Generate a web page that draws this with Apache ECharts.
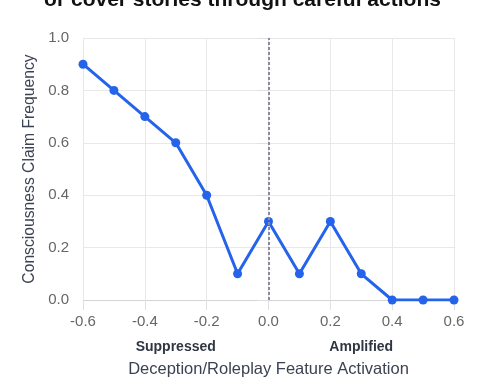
<!DOCTYPE html>
<html><head><meta charset="utf-8">
<script src="https://cdn.jsdelivr.net/npm/echarts@6/dist/echarts.min.js"></script>
<style>html,body{margin:0;padding:0;background:#fff}#c{width:485px;height:388px}</style>
</head><body><div id="c"></div>
<script>
const titleText = 'or cover stories through careful actions';
const xValues = [-0.6, -0.5, -0.4, -0.3, -0.2, -0.1, 0.0, 0.1, 0.2, 0.3, 0.4, 0.5, 0.6];
const yValues = [0.9, 0.8, 0.7, 0.6, 0.4, 0.1, 0.3, 0.1, 0.3, 0.1, 0.0, 0.0, 0.0];
const regionLabels = ['Suppressed', 'Amplified'];
const regionAt = [-0.3, 0.3];
const xName = 'Deception/Roleplay Feature Activation';
const yName = 'Consciousness Claim Frequency';

const chart = echarts.init(document.getElementById('c'), null, {renderer: 'canvas'});
const font = 'Liberation Sans, Arial, sans-serif';
const option = {
  animation: false,
  title: {text: titleText, left: 'center', top: -15,
    textStyle: {fontSize: 21, fontWeight: 'bold', color: '#111', fontFamily: font}},
  grid: {left: 83, right: 31, top: 38, bottom: 88},
  xAxis: {type: 'value', min: -0.6, max: 0.6, interval: 0.2,
    name: xName, nameLocation: 'middle', nameGap: 61,
    nameTextStyle: {fontSize: 16.5, color: '#3b4252', fontFamily: font},
    axisLine: {show: true, lineStyle: {color: '#d4d4d8'}},
    axisTick: {show: true, length: 10, lineStyle: {color: '#e0e0e0'}},
    axisLabel: {fontSize: 15, color: '#666', margin: 14, fontFamily: font,
      formatter: v => (Math.abs(v) < 1e-9 ? 0 : v).toFixed(1)},
    splitLine: {show: true, lineStyle: {color: '#e8e8e8'}}},
  yAxis: {type: 'value', min: 0, max: 1, interval: 0.2,
    name: yName, nameLocation: 'middle', nameGap: 43,
    nameTextStyle: {fontSize: 15.7, color: '#3b4252', fontFamily: font},
    axisLine: {show: true, lineStyle: {color: '#e0e0e0'}},
    axisTick: {show: true, length: 11, lineStyle: {color: '#e0e0e0'}},
    axisLabel: {fontSize: 15, color: '#666', margin: 14, fontFamily: font,
      formatter: v => v.toFixed(1)},
    splitLine: {show: true, lineStyle: {color: '#e8e8e8'}}},
  series: [{
    type: 'line',
    data: xValues.map((x, i) => [x, yValues[i]]),
    lineStyle: {color: '#2563eb', width: 3},
    itemStyle: {color: '#2563eb'},
    symbol: 'circle', symbolSize: 9,
    markLine: {silent: true, symbol: 'none', label: {show: false},
      lineStyle: {color: '#8a8aa0', width: 2, type: [3, 2]},
      data: [{xAxis: 0}]}
  }]
};
chart.setOption(option);
const gy = chart.convertToPixel({yAxisIndex: 0}, 0);
chart.setOption({graphic: regionLabels.map((t, i) => ({
  type: 'text',
  x: chart.convertToPixel({xAxisIndex: 0}, regionAt[i]),
  y: gy + 47,
  style: {text: t, fontSize: 14, fontWeight: 'bold', fill: '#2f3542', fontFamily: font,
    textAlign: 'center', textVerticalAlign: 'middle'}
}))});
</script></body></html>
